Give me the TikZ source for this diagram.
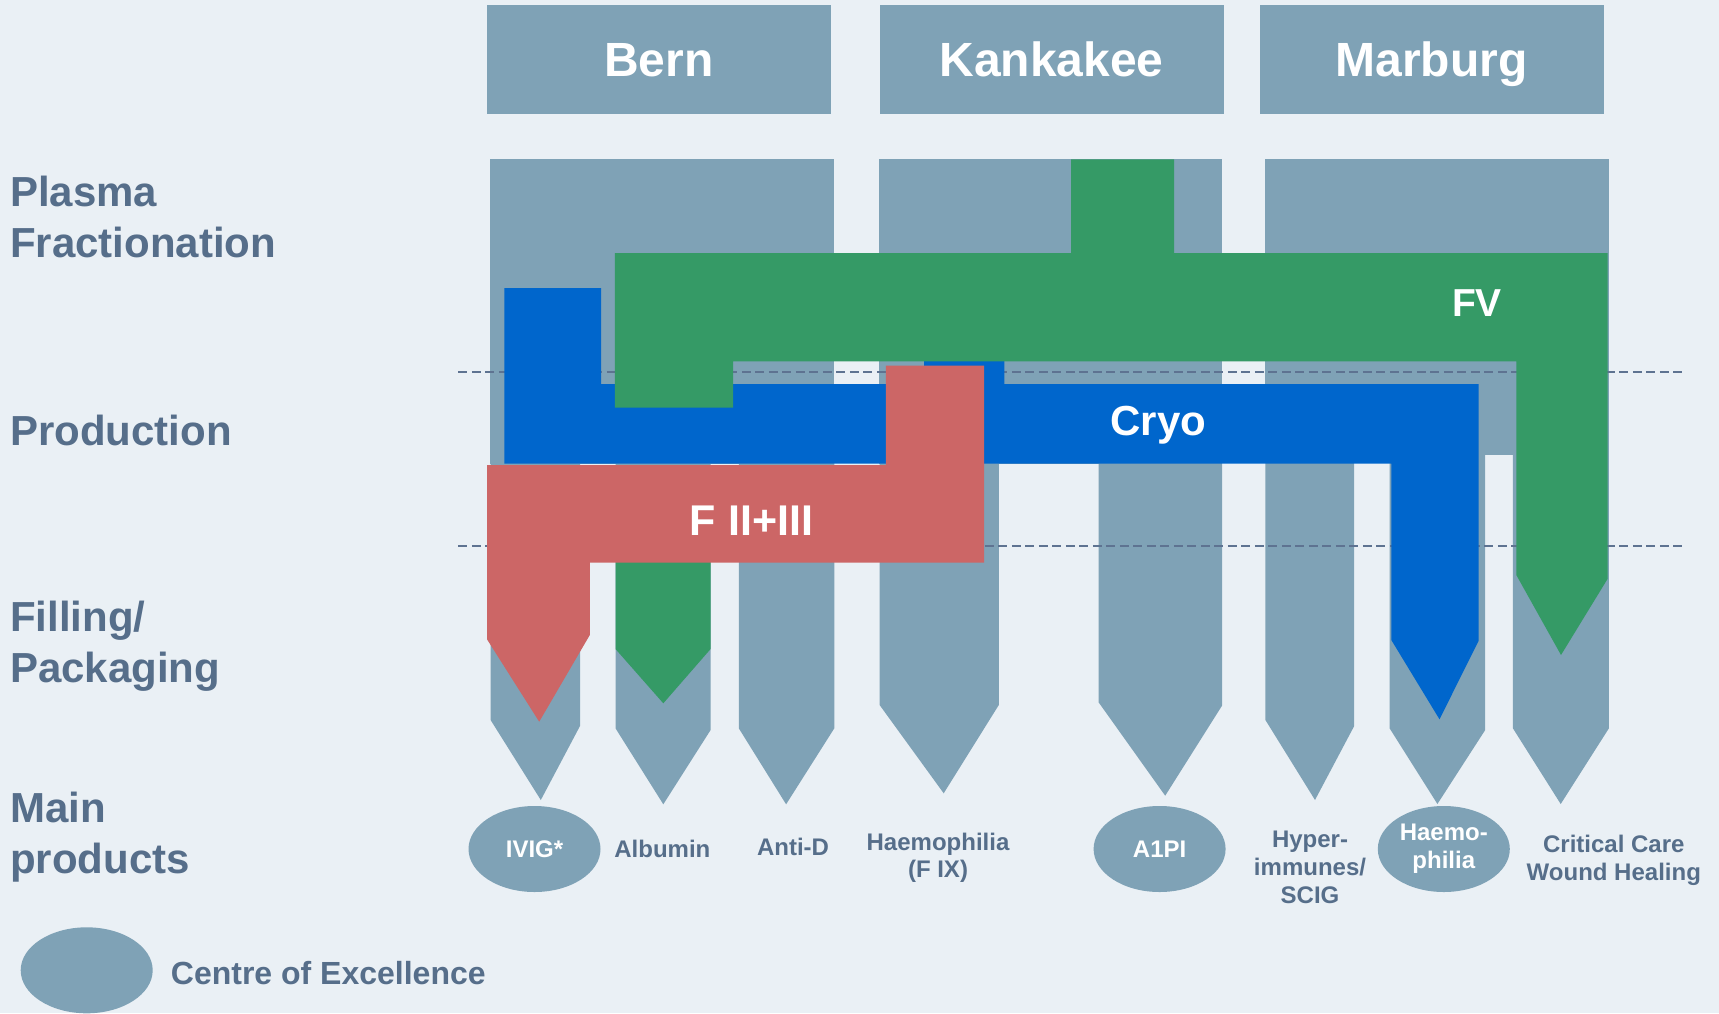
\documentclass[tikz,border=0pt]{standalone}
\usepackage{fontspec}
\setmainfont{Liberation Sans}
\usetikzlibrary{shapes.geometric}

\definecolor{bgc}{HTML}{EAF0F5}
\definecolor{colgray}{HTML}{7FA2B6}
\definecolor{fvgreen}{HTML}{359A66}
\definecolor{cryoblue}{HTML}{0066CC}
\definecolor{fiired}{HTML}{CC6666}
\definecolor{txtc}{HTML}{566E8A}
\definecolor{dashc}{HTML}{5E7391}

\begin{document}
\begin{tikzpicture}[x=1pt, y=-1pt,
	hdrbox/.style={fill=colgray, text=white, minimum width=344pt, minimum height=108.7pt, inner sep=0pt, text height=34.7pt, text depth=0pt, font=\fontsize{48}{48}\selectfont\bfseries},
	rowlbl/.style={text=txtc, anchor=base west, align=left, inner sep=0pt, font=\fontsize{42}{51}\selectfont\bfseries},
	prodlbl/.style={text=txtc, anchor=base, align=center, inner sep=0pt, font=\fontsize{24}{27.7}\selectfont\bfseries},
	coe/.style={ellipse, fill=colgray, text=white, minimum width=132pt, minimum height=86pt, inner sep=0pt, align=center, font=\fontsize{24}{27.7}\selectfont\bfseries},
	flowlbl/.style={text=white, anchor=base, inner sep=0pt},
	divider/.style={dashc, line width=2pt, dash pattern=on 9pt off 4.5pt}]

	\useasboundingbox (0,0) rectangle (1719,1013);
	\fill[bgc] (0,0) rectangle (1719,1013);

	% sites
	\node[hdrbox] (bern) at (659,59.35) {Bern};
	\node[hdrbox] (kankakee) at (1051.5,59.35) {Kankakee};
	\node[hdrbox] (marburg) at (1431.5,59.35) {Marburg};

	% fractionation columns
	\fill[colgray] (490,159.3) rectangle (834,464);
	\fill[colgray] (879.3,159.3) rectangle (1222,464);
	\fill[colgray] (1265,159.3) rectangle (1608.7,455);

	% filling pillars
	\fill[colgray] (490.6,440) -- (490.6,720) -- (540.8,800) -- (580,726) -- (580,440) -- cycle;
	\fill[colgray] (615.5,440) -- (615.5,728.3) -- (663.3,804.3) -- (710.6,730) -- (710.6,440) -- cycle;
	\fill[colgray] (738.8,440) -- (738.8,728.3) -- (786.1,804.3) -- (834.3,728.3) -- (834.3,440) -- cycle;
	\fill[colgray] (879.6,440) -- (879.6,705) -- (943.7,793.3) -- (998.8,705) -- (998.8,440) -- cycle;
	\fill[colgray] (1098.6,440) -- (1098.6,702.3) -- (1165.2,795.7) -- (1222,705.7) -- (1222,440) -- cycle;
	\fill[colgray] (1265.4,440) -- (1265.4,720) -- (1315,800) -- (1354.2,726) -- (1354.2,440) -- cycle;
	\fill[colgray] (1389.6,440) -- (1389.6,728.3) -- (1437.4,804) -- (1485.2,730) -- (1485.2,440) -- cycle;
	\fill[colgray] (1512.9,440) -- (1512.9,728.3) -- (1560.7,804) -- (1608.9,728.3) -- (1608.9,440) -- cycle;

	\draw[divider] (458.4,372) -- (1684.5,372);
	\draw[divider] (458.4,546.3) -- (1684.5,546.3);

	% Cryo
	\fill[cryoblue] (504.3,288) -- (601.1,288) -- (601.1,384) -- (924,384) -- (924,361) -- (1004.4,361) -- (1004.4,384)
		-- (1478.5,384) -- (1478.5,641) -- (1439.5,719.3) -- (1391.3,640) -- (1391.3,463.7) -- (504.3,463.7) -- cycle;

	% FV
	\fill[fvgreen] (1071,159.3) -- (1174.2,159.3) -- (1174.2,253) -- (1607.5,253) -- (1607.5,579) -- (1561,655)
		-- (1516.3,575) -- (1516.3,361.3) -- (733.1,361.3) -- (733.1,407.7) -- (614.9,407.7) -- (614.9,253) -- (1071,253) -- cycle;
	\fill[fvgreen] (615.5,560) -- (710.6,560) -- (710.6,649) -- (663.3,703.3) -- (615.5,649) -- cycle;

	% F II+III
	\fill[fiired] (885.8,365.7) -- (984.1,365.7) -- (984.1,562.7) -- (589.8,562.7) -- (589.8,635) -- (539.2,721.7)
		-- (487,639.3) -- (487,465) -- (885.8,465) -- cycle;

	\node[flowlbl, font=\fontsize{39}{39}\selectfont\bfseries] (fv) at (1477,316.7) {FV};
	\node[flowlbl, font=\fontsize{42}{42}\selectfont\bfseries] (cryo) at (1158.5,435) {Cryo};
	\node[flowlbl, font=\fontsize{43}{43}\selectfont\bfseries] (fiii) at (751.5,535) {F II+III};

	% stages (base = last line)
	\node[rowlbl] (plasma) at (10,257.3) {Plasma\\Fractionation};
	\node[rowlbl] (production) at (10,445) {Production};
	\node[rowlbl] (filling) at (10,682.7) {Filling/\\Packaging};
	\node[rowlbl] (mainprod) at (10,873.3) {Main\\products};

	% products
	\node[coe] (ivig) at (534.5,849) {IVIG*};
	\node[prodlbl] (albumin) at (662.4,857.3) {Albumin};
	\node[prodlbl] (antid) at (793,855.7) {Anti-D};
	\node[prodlbl] (haemfix) at (938,877.7) {Haemophilia\\(F IX)};
	\node[coe] (aonepi) at (1159.6,849) {A1PI};
	\node[prodlbl] (hyper) at (1310,903.3) {Hyper-\\immunes/\\SCIG};
	\node[coe] (haemo) at (1443.8,849) {Haemo-\\philia};
	\node[prodlbl] (critcare) at (1613.8,880) {Critical Care\\Wound Healing};

	% legend
	\node[coe] (coelegend) at (86.7,970.3) {};
	\node[text=txtc, anchor=base west, inner sep=0pt, font=\fontsize{32}{32}\selectfont\bfseries] (coetext) at (170.7,984) {Centre of Excellence};

\end{tikzpicture}
\end{document}
